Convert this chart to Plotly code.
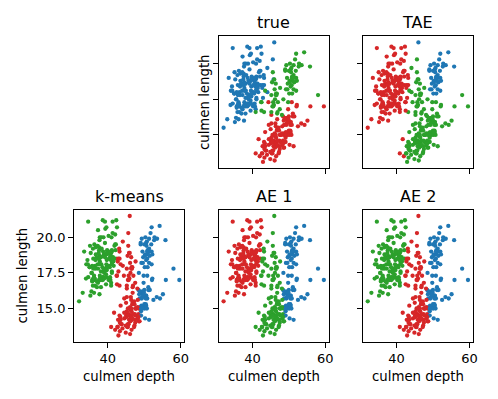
import plotly.graph_objects as go

# ---------------- data ----------------
# Adelie
adelie_x = [39.1,39.5,40.3,36.7,39.3,38.9,39.2,34.1,42.0,37.8,37.8,41.1,38.6,34.6,36.6,38.7,42.5,34.4,46.0,
            37.8,37.7,35.9,38.2,38.8,35.3,40.6,40.5,37.9,40.5,
            39.5,37.2,39.5,40.9,36.4,39.2,38.8,42.2,37.6,39.8,36.5,40.8,36.0,44.1,37.0,39.6,41.1,37.5,36.0,42.3,
            39.6,40.1,35.0,42.0,34.5,41.4,39.0,40.6,36.5,37.6,35.7,41.3,37.6,41.1,36.4,41.6,35.5,41.1,
            35.9,41.8,33.5,39.7,39.6,45.8,35.5,42.8,40.9,37.2,36.2,42.1,34.6,42.9,36.7,35.1,
            37.3,41.3,36.3,36.9,38.3,38.9,35.7,41.1,34.0,39.6,36.2,40.8,38.1,40.3,33.1,43.2,
            35.0,41.0,37.7,37.8,37.9,39.7,38.6,38.2,38.1,43.2,38.1,45.6,39.7,42.2,39.6,42.7,
            38.6,37.3,35.7,41.1,36.2,37.7,40.2,41.4,35.2,40.6,38.8,41.5,39.0,44.1,38.5,43.1,
            36.8,37.5,38.1,41.1,35.6,40.2,37.0,39.7,40.2,40.6,32.1,40.7,37.3,39.0,39.2,36.6,36.0,37.8,36.0,41.5]
adelie_y = [18.7,17.4,18.0,19.3,20.6,17.8,19.6,18.1,20.2,17.1,17.3,17.6,21.2,21.1,17.8,19.0,20.7,18.4,21.5,
            18.3,18.7,19.2,18.1,17.2,18.9,18.6,17.9,18.6,18.9,
            16.7,18.1,17.8,18.9,17.0,21.1,20.0,18.5,19.3,19.1,18.0,18.4,18.5,19.7,16.9,18.8,19.0,18.9,17.9,21.2,
            17.7,18.9,17.9,19.5,18.1,18.6,17.5,18.8,16.6,19.1,16.9,21.1,17.0,18.2,17.1,18.0,16.2,19.1,
            16.6,19.4,19.0,18.4,17.2,18.9,17.5,18.5,16.8,19.4,16.1,19.1,17.2,17.6,18.8,19.4,
            17.8,20.3,19.5,18.6,19.2,18.8,18.0,18.1,17.1,18.1,17.3,18.9,18.6,18.5,16.1,18.5,
            17.9,20.0,16.0,20.0,18.6,18.9,17.2,20.0,17.0,19.0,16.5,20.3,17.7,19.5,20.7,18.3,
            17.0,20.5,17.0,18.6,17.2,19.8,17.0,18.5,15.9,19.0,17.6,18.3,17.1,18.0,17.9,19.2,
            18.5,18.5,17.6,17.5,17.5,20.1,16.5,17.9,17.1,17.2,15.5,17.0,16.8,18.7,18.6,18.4,17.8,18.1,17.1,18.5]
# Gentoo
gentoo_x = [46.1,50.0,48.7,50.0,47.6,46.5,45.4,46.7,43.3,46.8,40.9,49.0,45.5,48.4,45.8,49.3,42.0,49.2,46.2,48.7,
            50.2,45.1,46.5,46.3,42.9,46.1,44.5,47.8,48.2,50.0,47.3,42.8,45.1,59.6,
            49.1,48.4,42.6,44.4,44.0,48.7,42.7,49.6,45.3,49.6,50.5,43.6,45.5,50.5,44.9,45.2,46.6,48.5,45.1,50.1,
            46.5,45.0,43.8,45.5,43.2,50.4,45.3,46.2,45.7,54.3,45.8,49.8,46.2,49.5,43.5,50.7,47.7,46.4,48.2,46.5,
            46.4,48.6,47.5,51.1,45.2,45.2,
            49.1,52.5,47.4,50.0,44.9,50.8,43.4,51.3,47.5,52.1,47.5,52.2,45.5,49.5,44.5,50.8,49.4,46.9,48.4,51.1,
            48.5,55.9,47.2,49.1,47.3,46.8,41.7,53.4,43.3,48.1,50.5,49.8,43.5,51.5,46.2,55.1,44.5,48.8,47.2,46.8,
            50.4,45.2,49.9]
gentoo_y = [13.2,16.3,14.1,15.2,14.5,13.5,14.6,15.3,13.4,15.4,13.7,16.1,13.7,14.6,14.6,15.7,13.5,15.2,14.5,15.1,
            14.3,14.5,14.5,15.8,13.1,15.1,14.3,15.0,14.3,15.3,15.3,14.2,14.5,17.0,
            14.8,16.3,13.7,17.3,13.6,15.7,13.7,16.0,13.7,15.0,15.9,13.9,13.9,15.9,13.3,15.8,14.2,14.1,14.4,15.0,
            14.4,15.4,13.9,15.0,14.5,15.3,13.8,14.9,13.9,15.7,14.2,16.8,14.4,16.2,14.2,15.0,15.0,15.6,15.6,14.8,
            15.0,16.0,14.2,16.3,13.8,16.4,
            14.5,15.6,14.6,15.9,13.8,17.3,14.4,14.2,14.0,17.0,15.0,17.1,14.5,16.1,14.7,15.7,15.8,14.6,14.4,16.5,
            15.0,17.0,15.5,15.0,13.8,16.1,14.7,15.8,14.0,15.1,15.2,15.9,15.2,16.3,14.1,16.0,15.7,16.2,13.7,14.3,
            15.7,14.8,16.1]
# Chinstrap
chin_x = [46.5,50.0,51.3,45.4,52.7,45.2,46.1,51.3,46.0,51.3,46.6,51.7,47.0,52.0,45.9,50.5,50.3,58.0,46.4,49.2,
          42.4,48.5,43.2,50.6,46.7,52.0,50.5,49.5,46.4,52.8,40.9,54.2,42.5,51.0,49.7,47.5,47.6,52.0,46.9,53.5,
          49.0,46.2,50.9,45.5,50.9,50.8,50.1,49.0,51.5,49.8,48.1,51.4,45.7,50.7,42.5,52.2,45.2,49.3,50.2,45.6,
          51.9,46.8,45.7,55.8,43.5,49.6,50.8,50.2]
chin_y = [17.9,19.5,19.2,18.7,19.8,17.8,18.2,18.2,18.9,19.9,17.8,20.3,17.3,18.1,17.1,19.6,20.0,17.8,18.6,18.2,
          17.3,17.5,16.6,19.4,17.9,19.0,18.4,19.0,17.8,20.0,16.6,20.8,16.7,18.8,18.6,16.8,18.3,20.7,16.6,19.9,
          19.5,17.5,19.1,17.0,17.9,18.5,17.9,19.6,18.7,17.3,16.4,19.0,17.3,19.7,17.3,18.8,16.6,19.9,18.8,19.4,
          19.5,16.5,17.0,19.8,18.1,18.2,19.0,18.7]

# cluster labels per point (0 = left group, 1 = middle group, 2 = right group)
kmeans_adelie = ("0000000000 0000000010 0000000000 0000000000 0010000000 0000000000 0000000000 "
                 "0010100000 1000000000 0000000010 0000000010 1000100000 0000000010 1000000000 0000000000 0")
kmeans_gentoo = ("1212111111 1211121212 2111111112 1112221112 1212211211 1112111112 1112121212 "
                 "1111121211 2212121212 1212122112 1212111211 2212121211 212")
kmeans_chin = "1221211212 1212122212 1212122212 0212211212 2121222222 1212121221 21121222"

# TAE labels (0 = left/red group, 1 = middle/green group, 2 = upper-right/blue group)
tae_adelie = ("0000000000 0000000020 0000000000 0000000000 0010000000 0000000000 0000000000 "
              "0010000000 0000000000 0000000000 0000000000 1000000000 0000000010 0000000000 0000000000 0")
tae_gentoo = ("1111111111 0111110111 1111111111 1111111111 1111111111 1111111111 1111111111 "
              "1111111111 1111111111 1111111111 1111110111 1111111111 111")
tae_chin = "1221211212 1212122112 0112122212 0202211212 2121222221 1212021221 21121222"

species_names = ["Adelie", "Gentoo", "Chinstrap"]
panel_titles = ["true", "TAE", "k-means", "AE 1", "AE 2"]
x_label = "culmen depth"
y_label = "culmen length"
x_ticks = [40, 60]
y_ticks = [15.0, 17.5, 20.0]
y_tick_text = ["15.0", "17.5", "20.0"]

BLUE, GREEN, RED = "#1f77b4", "#2ca02c", "#d62728"
species_color = {"Adelie": BLUE, "Chinstrap": GREEN, "Gentoo": RED}
panel_maps = {
    "TAE": {"0": RED, "1": GREEN, "2": BLUE},
    "k-means": {"0": GREEN, "1": RED, "2": BLUE},
    "AE 1": {"0": RED, "1": GREEN, "2": BLUE},
    "AE 2": {"0": GREEN, "1": RED, "2": BLUE},
}

# ---------------- assemble ----------------
def clean(s):
    return s.replace(" ", "")

xs = adelie_x + gentoo_x + chin_x
ys = adelie_y + gentoo_y + chin_y
species = ["Adelie"] * len(adelie_x) + ["Gentoo"] * len(gentoo_x) + ["Chinstrap"] * len(chin_x)
km = clean(kmeans_adelie) + clean(kmeans_gentoo) + clean(kmeans_chin)
tae = clean(tae_adelie) + clean(tae_gentoo) + clean(tae_chin)
assert len(km) == len(xs) == len(tae) == len(ys)

colors = {
    "true": [species_color[s] for s in species],
    "TAE": [panel_maps["TAE"][c] for c in tae],
    "k-means": [panel_maps["k-means"][c] for c in km],
    "AE 1": [panel_maps["AE 1"][c] for c in km],
    "AE 2": [panel_maps["AE 2"][c] for c in km],
}

W, H = 498, 399
col_left = [74.8, 220.8, 366.4]
col_w = 111.4
row_top = [36.4, 210.0]
row_h = 131.5
panel_pos = {"true": (1, 0), "TAE": (2, 0), "k-means": (0, 1), "AE 1": (1, 1), "AE 2": (2, 1)}

FONT = "DejaVu Sans"
fig = go.Figure()
layout = dict(width=W, height=H, margin=dict(l=0, r=0, t=0, b=0), paper_bgcolor="white",
              plot_bgcolor="white", showlegend=False, font=dict(family=FONT, size=13, color="black"))
annotations = []
for i, name in enumerate(panel_titles):
    c, r = panel_pos[name]
    k = "" if i == 0 else str(i + 1)
    x0 = col_left[c] / W
    x1 = (col_left[c] + col_w) / W
    y1 = 1 - row_top[r] / H
    y0 = 1 - (row_top[r] + row_h) / H
    fig.add_trace(go.Scatter(x=xs, y=ys, mode="markers", xaxis="x" + k, yaxis="y" + k,
                             marker=dict(size=4.3, color=colors[name], line=dict(width=0)),
                             hoverinfo="skip"))
    common = dict(showline=True, mirror=True, linecolor="black", linewidth=1, showgrid=False,
                  zeroline=False, ticks="outside", ticklen=5, tickwidth=1, tickcolor="black",
                  tickfont=dict(family=FONT, size=13, color="black"))
    layout["xaxis" + k] = dict(domain=[x0, x1], range=[30.725, 60.975], anchor="y" + k,
                               tickvals=x_ticks, ticktext=[str(t) for t in x_ticks],
                               showticklabels=(r == 1), **common)
    layout["yaxis" + k] = dict(domain=[y0, y1], range=[12.68, 21.92], anchor="x" + k,
                               tickvals=y_ticks, ticktext=y_tick_text,
                               showticklabels=(name == "k-means"), **common)
    # panel title
    annotations.append(dict(text=name, x=(col_left[c] + col_w / 2) / W, y=1 - (row_top[r] - 14) / H,
                            xref="paper", yref="paper", showarrow=False, xanchor="center",
                            yanchor="middle", font=dict(family=FONT, size=16, color="black")))
    if r == 1:
        annotations.append(dict(text=x_label, x=(col_left[c] + col_w / 2) / W, y=1 - 376 / H,
                                xref="paper", yref="paper", showarrow=False, xanchor="center",
                                yanchor="middle", font=dict(family=FONT, size=13.3, color="black")))
    if name in ("true", "k-means"):
        xpos = 23 if name == "k-means" else 206
        annotations.append(dict(text=y_label, x=xpos / W, y=1 - (row_top[r] + row_h / 2) / H,
                                xref="paper", yref="paper", showarrow=False, textangle=-90,
                                xanchor="center", yanchor="middle",
                                font=dict(family=FONT, size=13.3, color="black")))
layout["annotations"] = annotations
fig.update_layout(**layout)
fig.write_html("out.html", config={"displayModeBar": False, "staticPlot": True},
               post_script="document.body.style.margin='0';document.body.style.overflow='hidden';")
